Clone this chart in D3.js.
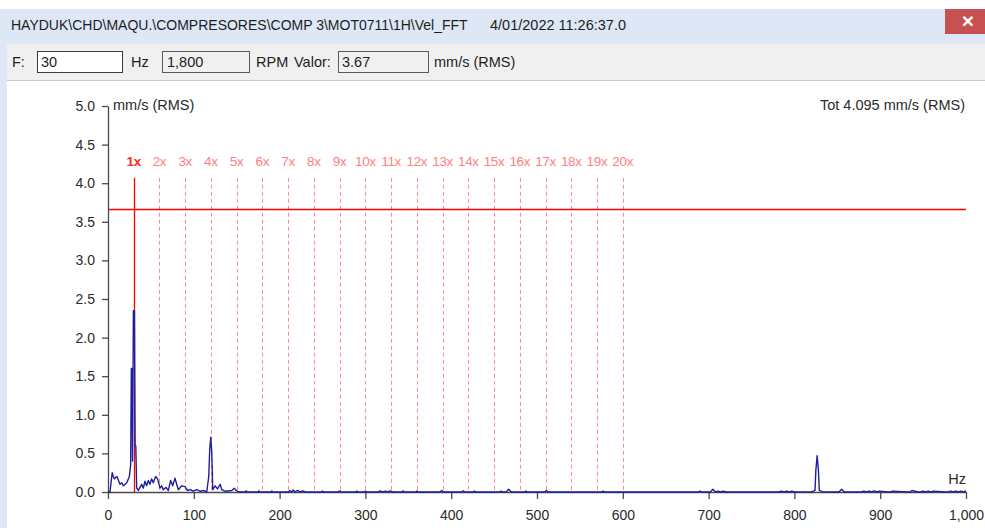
<!DOCTYPE html>
<html>
<head>
<meta charset="utf-8">
<script src="https://cdn.jsdelivr.net/npm/d3@7"></script>
<style>
  html, body { margin: 0; padding: 0; background: #ffffff; }
  svg { display: block; font-family: "Liberation Sans", Arial, sans-serif; }
</style>
</head>
<body>
<svg id="chart" width="985" height="528"></svg>
<script>
// Window header texts
const titlePath = "HAYDUK\\CHD\\MAQU.\\COMPRESORES\\COMP 3\\MOT0711\\1H\\Vel_FFT";
const titleDate = "4/01/2022 11:26:37.0";
const runSpeedHz = 30;
const runSpeedRpm = "1,800";
const cursorValue = 3.67;
const totalLabel = "Tot 4.095 mm/s (RMS)";
const unitLabel = "mm/s (RMS)";

// Axis ticks
const yTicks = [0, 0.5, 1, 1.5, 2, 2.5, 3, 3.5, 4, 4.5, 5];
const xTicks = [0, 100, 200, 300, 400, 500, 600, 700, 800, 900, 1000];

// Harmonic orders of the running speed
const harmonicOrders = d3.range(1, 21);
const harmonicTop = 4.07;

// Velocity spectrum: frequency (Hz) and amplitude (mm/s RMS)
const freqHz = [
  0, 2.3, 4.9, 6.2, 7.6, 9.0, 10.5, 12.2, 14.0, 16.0, 17.9, 19.8, 21.8, 23.4, 24.9, 26.4,
  27.2, 27.9, 28.6, 29.6, 30.8, 31.6, 32.4, 33.4, 35.3, 37.3, 39.2, 41.2, 43.1, 45.0, 47.0, 48.9,
  50.8, 52.8, 55.5, 57.8, 60.6, 62.5, 64.4, 67.6, 70.3, 73.0, 75.4, 78.1, 80.1, 82.0,
  85.9, 89.8, 92.5, 95.6, 99.5, 103.4, 107.3, 111.2, 115.1, 117.4, 118.6, 119.8, 121.0,
  122.1, 124.9, 127.6, 130.7, 132.6, 136.5, 144.3, 147.0, 149.3, 152.0,
  160, 161, 162, 175, 176, 177, 190, 191, 192, 210, 212, 214, 216, 218, 221, 224, 227, 230, 232,
  249, 250, 251, 268, 270, 272, 289, 290, 291, 299, 300, 301, 315, 317, 320, 323, 326, 329, 332, 334,
  343, 344, 345, 359, 360, 361, 387, 389, 391, 412, 414, 416, 426, 427, 428, 456, 458, 460,
  464, 467, 470, 486, 487, 488, 509, 511, 513, 576, 577, 578,
  688, 690, 692, 702, 705, 708, 711, 714, 717, 720, 723,
  782, 785, 788, 791, 794, 797, 800, 820, 822, 824, 825, 826.5, 828, 829, 831, 833,
  852, 855, 858, 878, 881, 884, 887, 890, 893, 896, 899, 910, 912, 914, 933, 935, 937,
  944, 947, 950, 953, 956, 959, 962, 976, 979, 982, 985, 988, 991, 994, 997, 1000
];
const ampMmS = [
  0, 0, 0.25, 0.2, 0.17, 0.19, 0.2, 0.15, 0.1, 0.12, 0.08, 0.1, 0.12, 0.16, 0.2, 0.35,
  1.6, 1.6, 0.4, 2.35, 2.35, 0.6, 0.6, 0.05, 0.02, 0.06, 0.1, 0.05, 0.14, 0.08, 0.15, 0.1,
  0.17, 0.12, 0.2, 0.17, 0.05, 0.08, 0.03, 0.06, 0.02, 0.15, 0.08, 0.18, 0.1, 0.03,
  0.08, 0.07, 0.02, 0.03, 0.01, 0.03, 0.01, 0.02, 0, 0.2, 0.56, 0.71,
  0.5, 0.03, 0.08, 0.04, 0.1, 0.03, 0.01, 0.02, 0.05, 0.02, 0,
  0, 0.015, 0, 0, 0.015, 0, 0, 0.012, 0, 0, 0.02, 0, 0.025, 0, 0.02, 0, 0.015, 0, 0,
  0, 0.012, 0, 0, 0.015, 0, 0, 0.012, 0, 0, 0.012, 0, 0, 0.015, 0, 0.012, 0, 0.015, 0, 0,
  0, 0.015, 0, 0, 0.012, 0, 0, 0.02, 0, 0, 0.015, 0, 0, 0.012, 0, 0, 0.012, 0,
  0, 0.035, 0, 0, 0.012, 0, 0, 0.02, 0, 0, 0.012, 0,
  0, 0.012, 0, 0, 0.035, 0, 0.012, 0, 0.012, 0, 0,
  0, 0.012, 0, 0.012, 0, 0.012, 0, 0, 0.012, 0.02, 0.28, 0.47, 0.28, 0.02, 0.012, 0,
  0, 0.035, 0, 0, 0.012, 0, 0.012, 0, 0.015, 0, 0.012, 0, 0, 0.012, 0, 0, 0.02, 0,
  0, 0.012, 0, 0.012, 0, 0.012, 0, 0, 0.012, 0, 0.012, 0, 0.012, 0, 0.015, 0
];

const svg = d3.select("#chart");
const font = "'Liberation Sans', Arial, sans-serif";

// ---- window chrome ----
svg.append("rect").attr("x", 0).attr("y", 0).attr("width", 985).attr("height", 528).attr("fill", "#ffffff");
svg.append("rect").attr("x", 0).attr("y", 9).attr("width", 985).attr("height", 35).attr("fill", "#dde7f5");
svg.append("rect").attr("x", 0).attr("y", 44).attr("width", 985).attr("height", 36).attr("fill", "#f0f0f0");
svg.append("line").attr("x1", 0).attr("x2", 985).attr("y1", 80.5).attr("y2", 80.5).attr("stroke", "#c9c9c9");
svg.append("rect").attr("x", 0).attr("y", 44).attr("width", 7).attr("height", 484).attr("fill", "#dde7f5");

svg.append("text").attr("x", 11).attr("y", 30).attr("font-size", 14).attr("fill", "#1e1e1e").text(titlePath);
svg.append("text").attr("x", 490).attr("y", 30).attr("font-size", 14.5).attr("fill", "#1e1e1e").text(titleDate);

// close button
svg.append("rect").attr("x", 945).attr("y", 9).attr("width", 40).attr("height", 25).attr("fill", "#c75050");
svg.append("text").attr("x", 968).attr("y", 28).attr("text-anchor", "middle").attr("font-size", 21)
  .attr("font-weight", "bold").attr("fill", "#ffffff").text("\u00d7");

// toolbar fields
const tb = svg.append("g").attr("font-size", 14.5).attr("fill", "#1e1e1e");
tb.append("text").attr("x", 12).attr("y", 67).text("F:");
tb.append("rect").attr("x", 37.5).attr("y", 51.5).attr("width", 85).attr("height", 21).attr("fill", "#ffffff").attr("stroke", "#3c3c3c");
tb.append("text").attr("x", 41).attr("y", 67).text(String(runSpeedHz));
tb.append("text").attr("x", 131).attr("y", 67).text("Hz");
tb.append("rect").attr("x", 162.5).attr("y", 51.5).attr("width", 87).attr("height", 21).attr("fill", "#f0f0f0").attr("stroke", "#5a5a5a");
tb.append("text").attr("x", 167).attr("y", 67).text(runSpeedRpm);
tb.append("text").attr("x", 256).attr("y", 67).text("RPM");
tb.append("text").attr("x", 294).attr("y", 67).text("Valor:");
tb.append("rect").attr("x", 338.5).attr("y", 51.5).attr("width", 90).attr("height", 21).attr("fill", "#f0f0f0").attr("stroke", "#5a5a5a");
tb.append("text").attr("x", 342).attr("y", 67).text(cursorValue.toFixed(2));
tb.append("text").attr("x", 434).attr("y", 67).text(unitLabel);

// ---- plot ----
const x = d3.scaleLinear().domain([0, 1000]).range([108, 966]);
const y = d3.scaleLinear().domain([0, 5]).range([492, 106]);

// harmonic markers
const harm = svg.append("g");
harmonicOrders.forEach(k => {
  const f = k * runSpeedHz;
  harm.append("line")
    .attr("x1", Math.round(x(f)) + 0.5).attr("x2", Math.round(x(f)) + 0.5)
    .attr("y1", y(harmonicTop)).attr("y2", y(0))
    .attr("stroke", k === 1 ? "#ff0000" : "#ff8c8c")
    .attr("stroke-width", k === 1 ? 1.3 : 1)
    .attr("stroke-dasharray", k === 1 ? null : "4,3");
  harm.append("text")
    .attr("x", x(f)).attr("y", 166).attr("text-anchor", "middle")
    .attr("font-size", 13.5)
    .attr("fill", k === 1 ? "#ff2a2a" : "#ff8080")
    .attr("font-weight", k === 1 ? "bold" : "normal")
    .attr("letter-spacing", -0.3)
    .text(k + "x");
});

// cursor amplitude line
svg.append("line")
  .attr("x1", x(0)).attr("x2", x(1000))
  .attr("y1", Math.round(y(cursorValue)) + 0.5).attr("y2", Math.round(y(cursorValue)) + 0.5)
  .attr("stroke", "#ff0000").attr("stroke-width", 1.3);

// axes
const yAxis = svg.append("g").attr("transform", "translate(108,0)")
  .call(d3.axisLeft(y).tickValues(yTicks).tickFormat(d3.format(".1f")).tickSize(6).tickSizeOuter(0).tickPadding(7));
const xAxis = svg.append("g").attr("transform", "translate(0,492)")
  .call(d3.axisBottom(x).tickValues(xTicks).tickFormat(d3.format(",")).tickSize(7).tickSizeOuter(0).tickPadding(11));
[yAxis, xAxis].forEach(a => {
  a.select(".domain").attr("stroke", "#4a4a4a").attr("stroke-width", 1.3);
  a.selectAll(".tick line").attr("stroke", "#4a4a4a").attr("stroke-width", 1.3);
  a.selectAll(".tick text").attr("font-size", 14).attr("fill", "#2a2a2a").attr("font-family", font);
});

// spectrum trace
const spectrum = freqHz.map((f, i) => [f, ampMmS[i]]);
svg.append("path")
  .datum(spectrum)
  .attr("fill", "none")
  .attr("stroke", "#1e1ea0")
  .attr("stroke-width", 1.4)
  .attr("stroke-linejoin", "round")
  .attr("d", d3.line().x(d => x(d[0])).y(d => y(d[1])));

// axis captions
svg.append("text").attr("x", 113).attr("y", 110).attr("font-size", 14.5).attr("fill", "#2a2a2a").text(unitLabel);
svg.append("text").attr("x", 965).attr("y", 110).attr("text-anchor", "end").attr("font-size", 14.5).attr("fill", "#2a2a2a").text(totalLabel);
svg.append("text").attr("x", 966).attr("y", 484).attr("text-anchor", "end").attr("font-size", 14.5).attr("fill", "#2a2a2a").text("Hz");
</script>
</body>
</html>
